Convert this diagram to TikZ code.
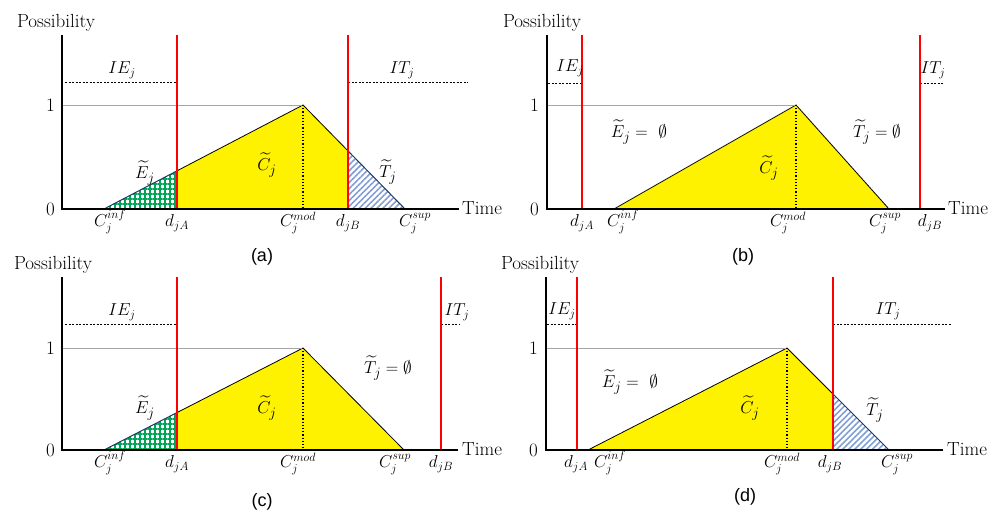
\documentclass[tikz,border=0pt]{standalone}
\usepackage{amsmath,amssymb}
\usepackage{fontspec}
\newfontfamily\capfont{Liberation Sans}
\usetikzlibrary{patterns.meta}
\definecolor{gridgreen}{RGB}{0,165,85}
\definecolor{hatchblue}{RGB}{130,158,212}
\definecolor{edgenavy}{RGB}{31,56,100}

\begin{document}
\begin{tikzpicture}[x=1pt, y=1pt,
                    every node/.style={font=\fontsize{17}{20}\selectfont, inner sep=1pt},
                    axis/.style={line width=2.4pt},
                    due/.style={red, line width=2pt},
                    unity/.style={gray!70, line width=0.8pt},
                    interval/.style={dash pattern=on 2pt off 1.5pt, line width=0.8pt},
                    modline/.style={dotted, line width=1.2pt},
                    fuzzy/.style={fill=yellow, draw=black, line width=0.8pt},
                    early/.style={pattern={Hatch[distance=5pt, line width=1.3pt]}, pattern color=gridgreen},
                    tardy/.style={pattern={Lines[angle=45, distance=4.2pt, line width=1.6pt]}, pattern color=hatchblue},
                    hatchedge/.style={edgenavy, line width=1pt},
                    ticklab/.style={anchor=base, font=\fontsize{17}{20}\selectfont},
                    setlab/.style={font=\fontsize{19}{22}\selectfont},
                    axlab/.style={font=\fontsize{19}{22}\selectfont},
                    caption/.style={font=\capfont\fontsize{18}{21}\selectfont}]
  \useasboundingbox (0,0) rectangle (993,514);

  % (a) completion time straddles both due dates
  \begin{scope}[shift={(62,305)}]
    \coordinate (a-o)     at (0,0);
    \coordinate (a-inf)   at (42,0);
    \coordinate (a-peak)  at (241,104);
    \coordinate (a-mod)   at (241,0);
    \coordinate (a-sup)   at (343,0);
    \coordinate (a-da)    at (115,0);
    \coordinate (a-datop) at (115,174);
    \coordinate (a-db)    at (286,0);
    \coordinate (a-dbtop) at (286,174);
    \coordinate (a-e) at (intersection of a-inf--a-peak and a-da--a-datop);
    \coordinate (a-t) at (intersection of a-peak--a-sup and a-db--a-dbtop);
    \fill[yellow] (a-da) -- (a-e) -- (a-peak) -- (a-t) -- (a-db) -- cycle;
    \fill[early] (a-inf) -- (a-e) -- (a-da) -- cycle;
    \fill[tardy] (a-db) -- (a-t) -- (a-sup) -- cycle;
    \draw[line width=0.8pt] (a-e) -- (a-peak) -- (a-t);
    \draw[hatchedge] (a-inf) -- (a-e);
    \draw[hatchedge] (a-t) -- (a-sup);
    \draw[unity] (1,104) -- (a-peak);
    \draw[modline] (a-peak) -- (a-mod);
    \draw[interval] (3,127) -- (115,127);
    \draw[interval] (286,127) -- (406,127);
    \draw[due] (a-da) -- (a-datop);
    \draw[due] (a-db) -- (a-dbtop);
    \draw[axis] (0,174) -- (a-o) -- (397,0);
    \node[axlab] (a-poss) at (-6,186) {Possibility};
    \node[axlab, anchor=west] (a-time) at (399,1) {Time};
    \node[axlab, anchor=east] (a-one) at (-6,104) {1};
    \node[axlab, anchor=east] (a-zero) at (-6,0) {0};
    \node (a-ie) at (60,139) {$IE_j$};
    \node (a-it) at (340,139) {$IT_j$};
    \node[setlab] (a-elab) at (83,36) {$\widetilde{E}_j$};
    \node[setlab] (a-clab) at (205,44) {$\widetilde{C}_j$};
    \node[setlab] (a-tlab) at (326,37) {$\widetilde{T}_j$};
    \node[ticklab] (a-inflab) at (48,-18) {$C_j^{inf}$};
    \node[ticklab] (a-dalab)  at (115,-18) {$d_{jA}$};
    \node[ticklab] (a-modlab) at (236,-18) {$C_j^{mod}$};
    \node[ticklab] (a-dblab)  at (286,-18) {$d_{jB}$};
    \node[ticklab] (a-suplab) at (353,-18) {$C_j^{sup}$};
    \node[caption] (a-cap) at (200,-48) {(a)};
  \end{scope}

  % (b) whole window between the due dates
  \begin{scope}[shift={(547,305)}]
    \coordinate (b-o)     at (0,0);
    \coordinate (b-inf)   at (67,0);
    \coordinate (b-peak)  at (249,104);
    \coordinate (b-mod)   at (249,0);
    \coordinate (b-sup)   at (342,0);
    \coordinate (b-da)    at (35,0);
    \coordinate (b-datop) at (35,174);
    \coordinate (b-db)    at (373,0);
    \coordinate (b-dbtop) at (373,174);
    \filldraw[fuzzy] (b-inf) -- (b-peak) -- (b-sup) -- cycle;
    \draw[unity] (1,104) -- (b-peak);
    \draw[modline] (b-peak) -- (b-mod);
    \draw[interval] (1,126) -- (35,126);
    \draw[interval] (373,126) -- (397,126);
    \draw[due] (b-da) -- (b-datop);
    \draw[due] (b-db) -- (b-dbtop);
    \draw[axis] (0,174) -- (b-o) -- (398,0);
    \node[axlab] (b-poss) at (-5,186) {Possibility};
    \node[axlab, anchor=west] (b-time) at (400,1) {Time};
    \node[axlab, anchor=east] (b-one) at (-7,104) {1};
    \node[axlab, anchor=east] (b-zero) at (-7,0) {0};
    \node (b-ie) at (23,141) {$IE_j$};
    \node (b-it) at (386,139) {$IT_j$};
    \node[setlab] (b-elab) at (92,77) {$\widetilde{E}_j =\ \emptyset$};
    \node[setlab] (b-clab) at (222,41) {$\widetilde{C}_j$};
    \node[setlab] (b-tlab) at (330,77) {$\widetilde{T}_j = \emptyset$};
    \node[ticklab] (b-dalab)  at (35,-18) {$d_{jA}$};
    \node[ticklab] (b-inflab) at (76,-18) {$C_j^{inf}$};
    \node[ticklab] (b-modlab) at (241,-18) {$C_j^{mod}$};
    \node[ticklab] (b-suplab) at (338,-18) {$C_j^{sup}$};
    \node[ticklab] (b-dblab)  at (383,-18) {$d_{jB}$};
    \node[caption] (b-cap) at (196,-48) {(b)};
  \end{scope}

  % (c) early part only
  \begin{scope}[shift={(62,64)}]
    \coordinate (c-o)     at (0,0);
    \coordinate (c-inf)   at (42,0);
    \coordinate (c-peak)  at (241,102);
    \coordinate (c-mod)   at (241,0);
    \coordinate (c-sup)   at (342,0);
    \coordinate (c-da)    at (115,0);
    \coordinate (c-datop) at (115,173);
    \coordinate (c-db)    at (379,0);
    \coordinate (c-dbtop) at (379,173);
    \coordinate (c-e) at (intersection of c-inf--c-peak and c-da--c-datop);
    \fill[yellow] (c-da) -- (c-e) -- (c-peak) -- (c-sup) -- cycle;
    \fill[early] (c-inf) -- (c-e) -- (c-da) -- cycle;
    \draw[line width=0.8pt] (c-e) -- (c-peak) -- (c-sup);
    \draw[hatchedge] (c-inf) -- (c-e);
    \draw[unity] (1,102) -- (c-peak);
    \draw[modline] (c-peak) -- (c-mod);
    \draw[interval] (3,126) -- (115,126);
    \draw[interval] (379,126) -- (398,126);
    \draw[due] (c-da) -- (c-datop);
    \draw[due] (c-db) -- (c-dbtop);
    \draw[axis] (0,173) -- (c-o) -- (396,0);
    \node[axlab] (c-poss) at (-9,185) {Possibility};
    \node[axlab, anchor=west] (c-time) at (399,1) {Time};
    \node[axlab, anchor=east] (c-one) at (-6,102) {1};
    \node[axlab, anchor=east] (c-zero) at (-6,0) {0};
    \node (c-ie) at (60,138) {$IE_j$};
    \node (c-it) at (395,138) {$IT_j$};
    \node[setlab] (c-elab) at (83,42) {$\widetilde{E}_j$};
    \node[setlab] (c-clab) at (205,42) {$\widetilde{C}_j$};
    \node[setlab] (c-tlab) at (326,82) {$\widetilde{T}_j = \emptyset$};
    \node[ticklab] (c-inflab) at (48,-18) {$C_j^{inf}$};
    \node[ticklab] (c-dalab)  at (115,-18) {$d_{jA}$};
    \node[ticklab] (c-modlab) at (236,-18) {$C_j^{mod}$};
    \node[ticklab] (c-suplab) at (333,-18) {$C_j^{sup}$};
    \node[ticklab] (c-dblab)  at (379,-18) {$d_{jB}$};
    \node[caption] (c-cap) at (200,-52) {(c)};
  \end{scope}

  % (d) tardy part only
  \begin{scope}[shift={(546,64)}]
    \coordinate (d-o)     at (0,0);
    \coordinate (d-inf)   at (42,0);
    \coordinate (d-peak)  at (241,102);
    \coordinate (d-mod)   at (241,0);
    \coordinate (d-sup)   at (343,0);
    \coordinate (d-da)    at (31,0);
    \coordinate (d-datop) at (31,173);
    \coordinate (d-db)    at (287,0);
    \coordinate (d-dbtop) at (287,173);
    \coordinate (d-t) at (intersection of d-peak--d-sup and d-db--d-dbtop);
    \fill[yellow] (d-inf) -- (d-peak) -- (d-t) -- (d-db) -- cycle;
    \fill[tardy] (d-db) -- (d-t) -- (d-sup) -- cycle;
    \draw[line width=0.8pt] (d-inf) -- (d-peak) -- (d-t);
    \draw[hatchedge] (d-t) -- (d-sup);
    \draw[unity] (1,102) -- (d-peak);
    \draw[modline] (d-peak) -- (d-mod);
    \draw[interval] (1,126) -- (31,126);
    \draw[interval] (287,126) -- (406,126);
    \draw[due] (d-da) -- (d-datop);
    \draw[due] (d-db) -- (d-dbtop);
    \draw[axis] (0,173) -- (d-o) -- (397,0);
    \node[axlab] (d-poss) at (-6,185) {Possibility};
    \node[axlab, anchor=west] (d-time) at (400,1) {Time};
    \node[axlab, anchor=east] (d-one) at (-7,102) {1};
    \node[axlab, anchor=east] (d-zero) at (-7,0) {0};
    \node (d-ie) at (16,139) {$IE_j$};
    \node (d-it) at (342,139) {$IT_j$};
    \node[setlab] (d-elab) at (84,68) {$\widetilde{E}_j =\ \emptyset$};
    \node[setlab] (d-clab) at (204,42) {$\widetilde{C}_j$};
    \node[setlab] (d-tlab) at (329,40) {$\widetilde{T}_j$};
    \node[ticklab] (d-dalab)  at (30,-18) {$d_{jA}$};
    \node[ticklab] (d-inflab) at (64,-18) {$C_j^{inf}$};
    \node[ticklab] (d-modlab) at (236,-18) {$C_j^{mod}$};
    \node[ticklab] (d-dblab)  at (284,-18) {$d_{jB}$};
    \node[ticklab] (d-suplab) at (351,-18) {$C_j^{sup}$};
    \node[caption] (d-cap) at (199,-47) {(d)};
  \end{scope}
\end{tikzpicture}
\end{document}
